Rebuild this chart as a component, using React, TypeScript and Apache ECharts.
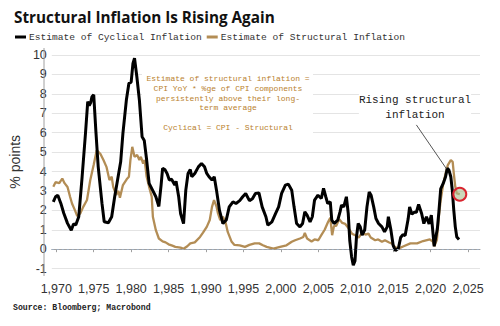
import React, { useEffect, useRef } from "react";
import * as echarts from "echarts";

const cyclicalYears = [1969.6,1969.9,1970.2,1970.6,1971.0,1971.5,1972.0,1972.3,1972.6,1973.0,1973.45,1973.9,1974.2,1974.4,1974.6,1974.76,1975.0,1975.3,1975.6,1976.1,1976.4,1976.96,1977.4,1977.8,1978.2,1978.6,1978.9,1979.36,1979.7,1980.0,1980.24,1980.45,1980.76,1981.1,1981.46,1981.75,1982.07,1982.4,1982.86,1983.3,1983.7,1984.0,1984.2,1984.5,1984.8,1985.1,1985.4,1985.83,1986.0,1986.35,1986.6,1987.0,1987.3,1987.6,1987.9,1988.1,1988.5,1988.98,1989.4,1989.8,1990.1,1990.4,1990.8,1991.1,1991.4,1991.8,1992.26,1992.7,1993.1,1993.6,1994.0,1994.5,1994.9,1995.3,1995.8,1996.2,1996.6,1997.07,1997.5,1998.0,1998.26,1998.8,1999.3,1999.7,2000.1,2000.6,2001.0,2001.45,2001.76,2002.1,2002.55,2002.9,2003.2,2003.5,2003.9,2004.2,2004.5,2004.95,2005.4,2005.7,2006.0,2006.26,2006.6,2006.8,2007.1,2007.6,2007.9,2008.1,2008.4,2008.75,2009.0,2009.2,2009.45,2009.67,2009.9,2010.1,2010.33,2010.6,2010.85,2011.2,2011.5,2011.8,2012.05,2012.4,2012.7,2013.05,2013.5,2013.85,2014.2,2014.36,2014.7,2015.0,2015.3,2015.7,2016.0,2016.3,2016.6,2017.0,2017.2,2017.5,2017.8,2018.1,2018.4,2018.8,2019.1,2019.45,2019.8,2020.1,2020.3,2020.48,2020.7,2020.9,2021.1,2021.35,2021.7,2022.0,2022.23,2022.45,2022.7,2022.9,2023.1,2023.3,2023.5,2023.8];
const cyclicalValues = [2.44,2.7,2.78,2.37,1.85,1.33,0.98,1.3,1.25,1.67,3.73,5.97,7.6,7.4,7.55,7.85,7.95,6.0,4.24,2.37,1.41,1.36,1.67,2.7,3.6,4.5,5.96,7.68,8.54,8.6,9.57,9.83,8.88,7.68,5.79,5.6,4.59,3.39,3.04,2.7,2.2,3.3,4.16,4.1,3.9,3.56,3.6,3.3,3.5,2.7,1.84,1.32,3.04,3.9,4.1,3.73,3.9,4.24,4.41,4.24,3.9,3.73,3.56,3.73,3.04,2.0,1.32,1.5,2.18,2.44,2.35,2.5,2.7,2.87,2.5,2.6,2.87,2.9,2.18,1.67,1.24,1.41,1.84,2.18,2.87,3.3,3.35,3.04,2.18,1.32,1.15,1.32,1.92,1.75,1.41,1.67,2.53,2.78,2.61,3.13,2.7,2.35,2.44,1.5,1.32,1.5,1.92,2.27,2.18,2.7,1.84,0.46,-0.4,-0.82,-0.6,0.63,1.32,1.15,0.72,1.0,2.18,2.95,2.78,2.18,1.58,1.32,1.15,0.89,1.15,1.67,0.98,0.2,-0.07,0.05,0.6,0.75,0.7,1.55,2.18,1.8,1.9,1.9,2.3,1.84,1.32,1.67,1.3,1.75,0.9,0.15,0.63,1.05,1.9,3.1,3.4,3.73,4.16,4.07,3.73,3.04,2.0,1.15,0.63,0.5];

const structuralYears = [1969.6,1969.9,1970.4,1970.8,1971.1,1971.5,1971.84,1972.1,1972.5,1972.8,1973.2,1973.6,1974.1,1974.54,1974.99,1975.4,1975.9,1976.3,1976.7,1977.1,1977.4,1977.6,1978.0,1978.3,1978.5,1978.9,1979.4,1979.7,1979.9,1980.15,1980.45,1980.8,1981.1,1981.3,1981.6,1981.8,1982.07,1982.4,1982.75,1982.9,1983.3,1983.7,1984.2,1984.6,1985.0,1985.5,1985.9,1986.6,1987.0,1987.5,1987.9,1988.5,1989.2,1989.6,1990.1,1990.5,1990.8,1991.07,1991.4,1991.6,1991.9,1992.26,1992.6,1992.9,1993.4,1993.8,1994.5,1995.2,1995.8,1996.5,1997.1,1997.6,1998.1,1999.0,1999.9,2000.75,2001.45,2001.9,2002.55,2003.0,2003.2,2003.5,2004.1,2004.5,2005.0,2005.4,2005.85,2006.3,2006.6,2006.85,2007.1,2007.4,2007.8,2008.2,2008.6,2009.0,2009.5,2010.0,2010.4,2010.85,2011.3,2011.7,2012.0,2012.6,2013.0,2013.5,2013.9,2014.4,2014.8,2015.3,2015.7,2016.4,2017.3,2018.2,2019.0,2019.9,2020.3,2020.5,2020.85,2021.1,2021.35,2021.7,2022.0,2022.3,2022.7,2022.95,2023.1,2023.3,2023.5,2023.9];
const structuralValues = [3.21,3.45,3.4,3.64,3.4,3.2,2.7,2.35,2.0,1.7,1.84,2.18,2.53,3.56,4.33,5.1,4.9,4.59,4.24,3.56,3.73,3.21,2.8,3.0,2.65,3.3,3.6,3.73,4.59,5.27,4.76,4.85,4.59,4.76,4.41,4.59,3.73,3.21,2.7,1.67,0.98,0.55,0.4,0.35,0.25,0.18,0.12,0.08,0.02,0.15,0.3,0.35,0.63,0.85,1.15,1.5,2.18,2.53,2.2,1.84,1.5,1.67,1.4,0.89,0.4,0.22,0.2,0.12,0.22,0.3,0.3,0.2,0.12,0.03,0.12,0.2,0.38,0.46,0.55,0.63,0.84,0.55,0.4,0.5,0.46,0.72,1.0,1.4,1.62,0.72,1.2,1.2,1.55,1.35,1.3,1.1,0.8,0.7,0.6,0.85,0.75,0.8,0.6,0.46,0.5,0.38,0.46,0.36,0.29,0.1,0.03,0.15,0.3,0.3,0.42,0.5,0.4,0.15,0.5,1.67,2.53,3.39,3.9,4.33,4.59,4.5,3.9,3.21,2.87,2.83];

const xTickYears = [1970, 1975, 1980, 1985, 1990, 1995, 2000, 2005, 2010, 2015, 2020, 2025];
const seriesNames = ["Estimate of Cyclical Inflation", "Estimate of Structural Inflation"];
const noteLines = [
  "Estimate of structural inflation =",
  "CPI YoY * %ge of CPI components",
  "persistently above their long-",
  "term average",
  "",
  "Cyclical = CPI - Structural",
];
const calloutLines = ["Rising structural", "inflation"];
const calloutFrom = [2018.1, 6.4];
const calloutTo = [2022.1, 4.15];

const BLACK = "#000000";
const GOLD = "#b38d55";
const MONO = "'Liberation Mono', 'DejaVu Sans Mono', monospace";
const SANS = "'Liberation Sans', Arial, sans-serif";

export default function App() {
  const ref = useRef<HTMLDivElement>(null);
  useEffect(() => {
    if (!ref.current) return;
    const chart = echarts.init(ref.current, null, { renderer: "svg" });
    const cyc = cyclicalYears.map((y, i) => [y, cyclicalValues[i]]);
    const str = structuralYears.map((y, i) => [y, structuralValues[i]]);
    const lastStr = str[str.length - 1];
    chart.setOption({
      animation: false,
      backgroundColor: "#ffffff",
      title: {
        text: "Structural Inflation Is Rising Again",
        left: 9,
        top: 4,
        textStyle: { fontFamily: "'Open Sans', sans-serif", fontWeight: "bold", fontSize: 15.3, color: "#111" },
      },
      legend: {
        left: 10,
        top: 27,
        itemWidth: 11,
        itemHeight: 3,
        itemGap: 5,
        icon: "rect",
        data: seriesNames,
        textStyle: { fontFamily: MONO, fontSize: 9.6, color: "#333", padding: [0, 0, 0, -2] },
      },
      grid: { left: 44, right: 20, top: 55, bottom: 57.4 },
      xAxis: {
        type: "value",
        min: 1969.4,
        max: 2026.6,
        offset: 7.4,
        axisLine: { show: true, lineStyle: { color: "#a0a0a0", width: 1 } },
        axisTick: { show: true, length: 3, customValues: xTickYears, lineStyle: { color: "#a0a0a0" } },
        axisLabel: { customValues: xTickYears, margin: 6, fontFamily: SANS, fontSize: 12.5, color: "#333" },
        splitLine: { show: false },
      },
      yAxis: {
        type: "value",
        min: -1,
        max: 10,
        interval: 1,
        name: "% points",
        nameLocation: "middle",
        nameGap: 22,
        nameTextStyle: { fontFamily: SANS, fontSize: 14, color: "#333" },
        axisLine: { show: false },
        axisTick: { show: false },
        axisLabel: { margin: 5, fontFamily: SANS, fontSize: 12.5, color: "#333" },
        splitLine: { show: true, lineStyle: { color: "#e4e4e4", width: 1 } },
      },
      series: [
        {
          name: seriesNames[1],
          type: "line",
          data: str,
          showSymbol: false,
          color: GOLD,
          lineStyle: { color: GOLD, width: 2.3 },
          z: 3,
          markLine: {
            silent: true,
            symbol: "none",
            label: { show: false },
            lineStyle: { color: "#9fb0c4", type: [2, 3], width: 1.2 },
            data: [{ yAxis: 0 }],
          },
          markPoint: {
            silent: true,
            symbol: "circle",
            symbolSize: 13,
            itemStyle: { color: "rgba(170,190,140,0.6)", borderColor: "#d9252f", borderWidth: 2 },
            label: { show: false },
            data: [{ coord: lastStr }],
          },
        },
        {
          name: seriesNames[0],
          type: "line",
          data: cyc,
          showSymbol: false,
          color: BLACK,
          lineStyle: { color: BLACK, width: 3 },
          z: 4,
          markLine: {
            silent: true,
            symbol: "none",
            label: { show: false },
            lineStyle: { color: "#555", type: "solid", width: 1 },
            data: [[{ coord: calloutFrom }, { coord: calloutTo }]],
          },
        },
      ],
      graphic: [
        {
          type: "line",
          z: 1,
          shape: { x1: 44, y1: 48, x2: 44, y2: 276 },
          style: { stroke: "#a0a0a0", lineWidth: 1 },
        },
        {
          type: "rect",
          z: 1,
          shape: { x: 142, y: 69, width: 171, height: 71 },
          style: { fill: "#ffffff" },
        },
        {
          type: "text",
          z: 5,
          x: 228,
          y: 74,
          style: {
            text: noteLines.join("\n"),
            align: "center",
            verticalAlign: "top",
            font: `8px ${MONO}`,
            lineHeight: 9.7,
            fill: "#b97f2e",
          },
        },
        {
          type: "text",
          z: 5,
          x: 415,
          y: 93,
          style: {
            text: calloutLines.join("\n"),
            align: "center",
            verticalAlign: "top",
            font: `11px ${MONO}`,
            lineHeight: 14.5,
            fill: "#222",
            backgroundColor: "#fff",
          },
        },
        {
          type: "text",
          x: 13,
          y: 303,
          style: {
            text: "Source: Bloomberg; Macrobond",
            font: `bold 8.2px ${MONO}`,
            fill: "#222",
          },
        },
      ],
    });
    return () => chart.dispose();
  }, []);
  return <div ref={ref} style={{ width: 500, height: 326, margin: -8 }} />;
}
